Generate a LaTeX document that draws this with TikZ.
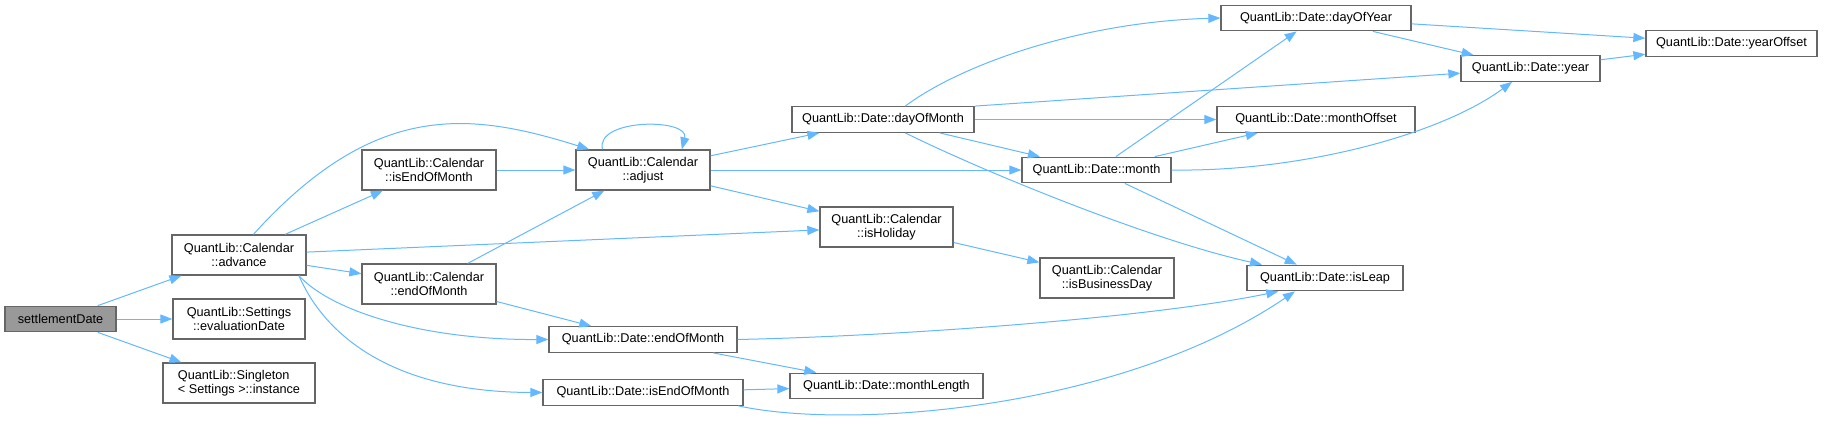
\documentclass[tikz,border=0pt]{standalone}
\usepackage{fontspec}
\setmainfont{Liberation Sans}
\usetikzlibrary{arrows.meta}

\definecolor{callblue}{HTML}{63B8FF}
\definecolor{boxgray}{HTML}{666666}
\definecolor{rootgray}{HTML}{999999}

\tikzset{
  func/.style={draw=boxgray, line width=1.3pt, fill=white, inner sep=0pt,
    align=center, font=\fontsize{12.7}{14.5}\selectfont},
  oneline/.style={func, minimum height=25.5pt},
  twoline/.style={func, minimum height=40pt},
  call/.style={draw=callblue, line width=1pt, -{Triangle[length=12pt,width=9pt]}}
}

\begin{document}
\begin{tikzpicture}[x=1pt, y=-1pt]

% Fix the page size
\useasboundingbox (0,0) rectangle (1839,425);

% Define the functions
\node[oneline, fill=rootgray, minimum width=111pt] (settle) at (60.5,319) {settlementDate};
\node[twoline, minimum width=134pt] (advance) at (239,255) {QuantLib::Calendar\\::advance};
\node[twoline, minimum width=132pt] (evaldate) at (239,319) {QuantLib::Settings\\::evaluationDate};
\node[twoline, minimum width=152pt, align=left] (instance) at (239,383) {QuantLib::Singleton\\< Settings >::instance};
\node[twoline, minimum width=134pt] (caleom) at (429,170) {QuantLib::Calendar\\::isEndOfMonth};
\node[twoline, minimum width=134pt] (adjust) at (643,170) {QuantLib::Calendar\\::adjust};
\node[twoline, minimum width=134pt] (calend) at (429,284) {QuantLib::Calendar\\::endOfMonth};
\node[oneline, minimum width=188pt] (dateend) at (643,339.5) {QuantLib::Date::endOfMonth};
\node[oneline, minimum width=200pt] (dateeom) at (643,392.5) {QuantLib::Date::isEndOfMonth};
\node[oneline, minimum width=193pt] (mlength) at (886.5,386) {QuantLib::Date::monthLength};
\node[oneline, minimum width=182pt] (dom) at (883,119.5) {QuantLib::Date::dayOfMonth};
\node[twoline, minimum width=133pt] (holiday) at (886.5,227) {QuantLib::Calendar\\::isHoliday};
\node[oneline, minimum width=149pt] (month) at (1096.5,170) {QuantLib::Date::month};
\node[twoline, minimum width=134pt] (busday) at (1107,278) {QuantLib::Calendar\\::isBusinessDay};
\node[oneline, minimum width=190pt] (doy) at (1316,18) {QuantLib::Date::dayOfYear};
\node[oneline, minimum width=198pt] (moffset) at (1316,119.5) {QuantLib::Date::monthOffset};
\node[oneline, minimum width=156pt] (leap) at (1325,278) {QuantLib::Date::isLeap};
\node[oneline, minimum width=139pt] (year) at (1530.5,68.5) {QuantLib::Date::year};
\node[oneline, minimum width=171pt] (yoffset) at (1731.5,43.5) {QuantLib::Date::yearOffset};

% Calls of settlementDate
\draw[call] (settle) -- (advance);
\draw[call] (settle) -- (evaldate);
\draw[call] (settle) -- (instance);

% Calls of advance
\draw[call] (advance.55) .. controls (375,100) and (470,112) .. (adjust.159);
\draw[call] (advance) -- (caleom);
\draw[call] (advance) -- (holiday);
\draw[call] (advance) -- (calend);
\draw[call] (advance.-19) .. controls (330,310) and (420,340) .. (dateend.west);
\draw[call] (advance.-19) .. controls (320,325) and (380,392) .. (dateeom.west);

% Calendar helpers
\draw[call] (caleom) -- (adjust);
\draw[call] (calend) -- (adjust);
\draw[call] (calend) -- (dateend);

% Calls of adjust
\draw[call] (adjust.153) .. controls (595,118) and (690,118) .. (adjust.28);
\draw[call] (adjust) -- (dom);
\draw[call] (adjust) -- (month);
\draw[call] (adjust) -- (holiday);

% Calls of dayOfMonth
\draw[call] (dom.31) .. controls (960,65) and (1080,22) .. (doy.west);
\draw[call] (dom.north east) -- (year);
\draw[call] (dom) -- (moffset);
\draw[call] (dom) -- (month);
\draw[call] (dom.-31) .. controls (980,170) and (1150,240) .. (leap.168);

% Calls of month
\draw[call] (month) -- (doy);
\draw[call] (month) -- (moffset);
\draw[call] (month.east) .. controls (1300,172) and (1440,135) .. (year.-144);
\draw[call] (month) -- (leap);

% Year helpers
\draw[call] (doy) -- (yoffset);
\draw[call] (doy) -- (year);
\draw[call] (year) -- (yoffset);
\draw[call] (holiday) -- (busday);

% Date end of month
\draw[call] (dateend.east) .. controls (900,336) and (1150,318) .. (leap.196);
\draw[call] (dateend) -- (mlength);
\draw[call] (dateeom) -- (mlength);
\draw[call] (dateeom.-8) .. controls (850,430) and (1120,410) .. (leap.204);

\end{tikzpicture}
\end{document}
